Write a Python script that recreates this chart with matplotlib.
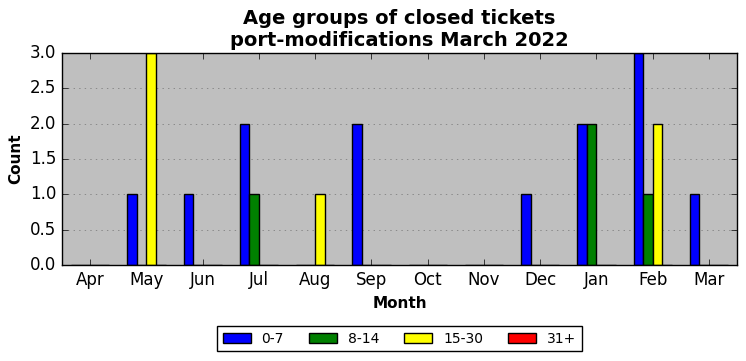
import numpy as np
import matplotlib
matplotlib.use('Agg')
import matplotlib.pyplot as plt

plt.style.use('classic')

# ======================
# DONNÉES
# ======================

months = ['Apr', 'May', 'Jun', 'Jul', 'Aug', 'Sep', 'Oct', 'Nov', 'Dec', 'Jan', 'Feb', 'Mar']
groups = ['0-7', '8-14', '15-30', '31+']
colors = ['blue', 'green', 'yellow', 'red']

g_0_7 = [0, 1, 1, 2, 0, 2, 0, 0, 1, 2, 3, 1]
g_8_14 = [0, 0, 0, 1, 0, 0, 0, 0, 0, 2, 1, 0]
g_15_30 = [0, 3, 0, 0, 1, 0, 0, 0, 0, 0, 2, 0]
g_31 = [0, 0, 0, 0, 0, 0, 0, 0, 0, 0, 0, 0]

series = [g_0_7, g_8_14, g_15_30, g_31]

# ======================
# AFFICHAGE
# ======================

fig = plt.figure(figsize=(7.46, 3.61), dpi=100, facecolor='white')
ax = fig.add_axes([62 / 746, 1 - 265 / 361, 675 / 746, 212 / 361])
ax.set_facecolor('#bfbfbf')

x = np.arange(len(months))
w = 0.17
for i, (vals, name, c) in enumerate(zip(series, groups, colors)):
    ax.bar(x + (i - 1.5) * w, vals, w, color=c, edgecolor='black',
           linewidth=1, label=name, align='center')

ax.set_xticks(x)
ax.set_xticklabels(months, fontsize=12)
ax.set_xlim(-0.5, 11.5)
ax.set_ylim(0, 3)
ax.set_yticks(np.arange(0, 3.01, 0.5))
ax.tick_params(axis='y', labelsize=12)
ax.grid(True, axis='y', linestyle=':', color='0.45')
ax.set_axisbelow(True)

ax.set_xlabel('Month', fontweight='bold', fontsize=11)
ax.set_ylabel('Count', fontweight='bold', fontsize=11)
ax.set_title('Age groups of closed tickets\nport-modifications March 2022',
             fontweight='bold', fontsize=14)

# légende centrée sous l'axe
ax.legend(loc='lower center', bbox_to_anchor=(399.5 / 746, 0.015), ncol=4,
          bbox_transform=fig.transFigure,
          fontsize=10, frameon=True, borderaxespad=0.3, columnspacing=1.8)

fig.savefig('out.png', dpi=100, facecolor='white')
